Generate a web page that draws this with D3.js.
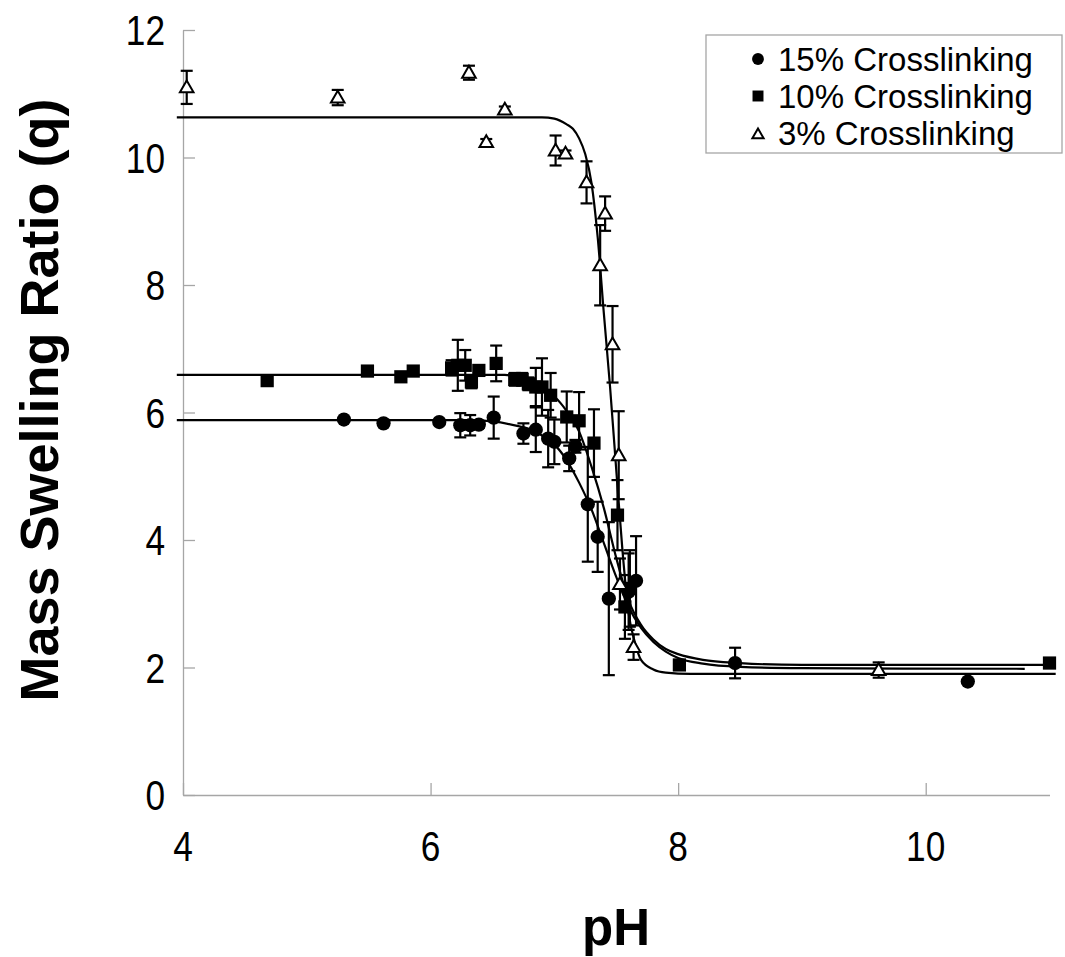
<!DOCTYPE html>
<html>
<head>
<meta charset="utf-8">
<script src="https://cdn.jsdelivr.net/npm/d3@7/dist/d3.min.js"></script>
<style>
  html, body { margin: 0; padding: 0; background: #fff; }
  svg { display: block; }
  text { font-family: "Liberation Sans", Arial, sans-serif; }
</style>
</head>
<body>
<svg id="chart" width="1065" height="957"></svg>
<script>
// ---------- Data ----------
const xTicks = [4, 6, 8, 10];
const yTicks = [0, 2, 4, 6, 8, 10, 12];
const seriesNames = ["15% Crosslinking", "10% Crosslinking", "3% Crosslinking"];

// 15% crosslinking (filled circles)
const pH15  = [5.30, 5.62, 6.07, 6.24, 6.32, 6.39, 6.51, 6.75, 6.85, 6.95, 7.00, 7.12, 7.17, 7.27, 7.35, 7.44, 7.60, 7.66, 8.46, 10.34];
const q15   = [5.89, 5.83, 5.85, 5.80, 5.80, 5.81, 5.92, 5.67, 5.73, 5.59, 5.54, 5.28, 5.47, 4.56, 4.05, 3.08, 3.19, 3.36, 2.07, 1.78];
const err15 = [0, 0, 0, 0.19, 0.16, 0.05, 0.33, 0.16, 0.35, 0.45, 0.35, 0.20, 0.10, 0.90, 0.55, 1.20, 0.60, 0.70, 0.24, 0];

// 10% crosslinking (filled squares)
const pH10  = [4.68, 5.49, 5.76, 5.86, 6.17, 6.22, 6.28, 6.33, 6.39, 6.53, 6.68, 6.74, 6.79, 6.85, 6.90, 6.97, 7.10, 7.20, 7.32, 7.51, 7.57, 7.61, 8.01, 11.0];
const q10   = [6.50, 6.65, 6.56, 6.65, 6.70, 6.74, 6.74, 6.48, 6.66, 6.77, 6.52, 6.52, 6.45, 6.40, 6.40, 6.27, 5.93, 5.87, 5.52, 4.39, 2.95, 3.24, 2.04, 2.07];
const err10 = [0, 0, 0, 0, 0.12, 0.40, 0.24, 0.10, 0, 0.28, 0.10, 0.10, 0.10, 0.30, 0.45, 0.35, 0.40, 0.45, 0.53, 0.55, 0.50, 0.60, 0, 0];

// 3% crosslinking (open triangles)
const pH3   = [4.03, 5.25, 6.31, 6.45, 6.60, 7.01, 7.09, 7.26, 7.37, 7.41, 7.47, 7.52, 7.53, 7.64, 9.62];
const q3    = [11.10, 10.94, 11.33, 10.24, 10.75, 10.11, 10.06, 9.61, 8.31, 9.12, 7.07, 5.33, 3.31, 2.32, 1.96];
const err3  = [0.26, 0.12, 0.11, 0.05, 0.05, 0.235, 0.05, 0.33, 0.63, 0.27, 0.60, 0.69, 0.40, 0.20, 0.12];

// Fitted curves
const fitPH15 = [3.95, 6.30, 6.50, 6.70, 6.80, 6.90, 7.00, 7.10, 7.20, 7.30, 7.40, 7.50, 7.60, 7.70, 7.80, 7.90, 8.00, 8.20, 8.50, 9.00, 10.80];
const fitQ15  = [5.88, 5.88, 5.86, 5.79, 5.74, 5.64, 5.50, 5.25, 4.90, 4.48, 3.95, 3.42, 2.95, 2.62, 2.40, 2.25, 2.15, 2.06, 2.01, 1.99, 1.98];
const fitPH10 = [3.95, 6.60, 6.70, 6.80, 6.90, 7.00, 7.10, 7.20, 7.30, 7.40, 7.50, 7.60, 7.70, 7.80, 7.90, 8.00, 8.20, 8.50, 9.00, 11.00];
const fitQ10  = [6.59, 6.59, 6.56, 6.49, 6.38, 6.25, 6.02, 5.70, 5.15, 4.50, 3.72, 3.05, 2.67, 2.44, 2.29, 2.21, 2.12, 2.07, 2.04, 2.04];
const fitPH3  = [3.95, 6.90, 7.00, 7.10, 7.15, 7.20, 7.25, 7.30, 7.35, 7.40, 7.45, 7.50, 7.55, 7.60, 7.65, 7.70, 7.80, 7.90, 8.10, 11.05];
const fitQ3   = [10.63, 10.63, 10.61, 10.52, 10.45, 10.30, 10.05, 9.60, 8.75, 7.55, 6.40, 5.10, 3.84, 2.85, 2.40, 2.12, 1.97, 1.92, 1.90, 1.90];

// ---------- Drawing ----------
const svg = d3.select("#chart");
const x = d3.scaleLinear().domain([4, 11]).range([183, 1049.5]);
const y = d3.scaleLinear().domain([0, 12]).range([795, 30]);
const axisColor = "#a6a6a6";

// Axes (lines and inward ticks from d3 axes; labels drawn condensed below)
const gx = svg.append("g").attr("transform", `translate(0,${y(0)})`)
  .call(d3.axisBottom(x).tickValues(xTicks).tickSizeInner(-12).tickSizeOuter(0).tickFormat(""));
const gy = svg.append("g").attr("transform", `translate(${x(4)},0)`)
  .call(d3.axisLeft(y).tickValues(yTicks).tickSizeInner(-12).tickSizeOuter(0).tickFormat(""));
[gx, gy].forEach(g => {
  g.select(".domain").attr("stroke", axisColor).attr("stroke-width", 1.3);
  g.selectAll(".tick line").attr("stroke", axisColor).attr("stroke-width", 1.3);
});
svg.append("g").selectAll("text").data(xTicks).join("text")
  .attr("transform", d => `translate(${x(d)},861) scale(0.84,1)`)
  .attr("text-anchor", "middle").style("font-size", "42px").text(d => d);
svg.append("g").selectAll("text").data(yTicks).join("text")
  .attr("transform", d => `translate(165,${y(d) + 15}) scale(0.84,1)`)
  .attr("text-anchor", "end").style("font-size", "42px").text(d => d);

// Axis titles
svg.append("text").attr("x", 616).attr("y", 945).attr("text-anchor", "middle")
  .style("font-size", "51px").style("font-weight", "bold").text("pH");
svg.append("text").attr("transform", `translate(58,400) rotate(-90)`).attr("text-anchor", "middle")
  .style("font-size", "54px").style("font-weight", "bold").text("Mass Swelling Ratio (q)");

// Fit lines
const line = d3.line().x(d => x(d[0])).y(d => y(d[1])).curve(d3.curveMonotoneX);
[[fitPH15, fitQ15], [fitPH10, fitQ10], [fitPH3, fitQ3]].forEach(([px, qy]) => {
  svg.append("path").datum(px.map((v, i) => [v, qy[i]]))
    .attr("d", line).attr("fill", "none").attr("stroke", "#000").attr("stroke-width", 2.2);
});

// Error bars
function errorBars(px, qy, er) {
  const g = svg.append("g").attr("stroke", "#000").attr("stroke-width", 2.2);
  px.forEach((v, i) => {
    if (!er[i]) return;
    const cx = x(v), y1 = y(qy[i] - er[i]), y2 = y(qy[i] + er[i]);
    g.append("line").attr("x1", cx).attr("x2", cx).attr("y1", y1).attr("y2", y2);
    g.append("line").attr("x1", cx - 6).attr("x2", cx + 6).attr("y1", y1).attr("y2", y1);
    g.append("line").attr("x1", cx - 6).attr("x2", cx + 6).attr("y1", y2).attr("y2", y2);
  });
}
errorBars(pH15, q15, err15);
errorBars(pH10, q10, err10);
errorBars(pH3, q3, err3);

// Markers
const sym = {
  circle: d3.symbol().type(d3.symbolCircle).size(160),
  square: d3.symbol().type(d3.symbolSquare).size(175),
  triangle: d3.symbol().type(d3.symbolTriangle).size(80)
};
function markers(px, qy, path, filled) {
  svg.append("g").selectAll("path").data(px.map((v, i) => [v, qy[i]])).join("path")
    .attr("transform", d => `translate(${x(d[0])},${y(d[1]) + (filled ? 0 : 1)})`)
    .attr("d", path)
    .attr("fill", filled ? "#000" : "#fff")
    .attr("stroke", "#000").attr("stroke-width", filled ? 0 : 2);
}
markers(pH15, q15, sym.circle(), true);
markers(pH10, q10, sym.square(), true);
markers(pH3, q3, sym.triangle(), false);

// Legend
const lg = svg.append("g");
lg.append("rect").attr("x", 706).attr("y", 35).attr("width", 356).attr("height", 118)
  .attr("fill", "#fff").attr("stroke", axisColor).attr("stroke-width", 1.3);
const legSyms = [
  { p: d3.symbol().type(d3.symbolCircle).size(110)(), filled: true },
  { p: d3.symbol().type(d3.symbolSquare).size(120)(), filled: true },
  { p: d3.symbol().type(d3.symbolTriangle).size(55)(), filled: false }
];
seriesNames.forEach((name, i) => {
  const cy = 59 + i * 37;
  lg.append("path").attr("d", legSyms[i].p).attr("transform", `translate(758,${cy + (i === 2 ? 2 : 0)})`)
    .attr("fill", legSyms[i].filled ? "#000" : "#fff").attr("stroke", "#000")
    .attr("stroke-width", legSyms[i].filled ? 0 : 2);
  lg.append("text").attr("x", 778).attr("y", cy + 12).style("font-size", "33px").text(name);
});
</script>
</body>
</html>
